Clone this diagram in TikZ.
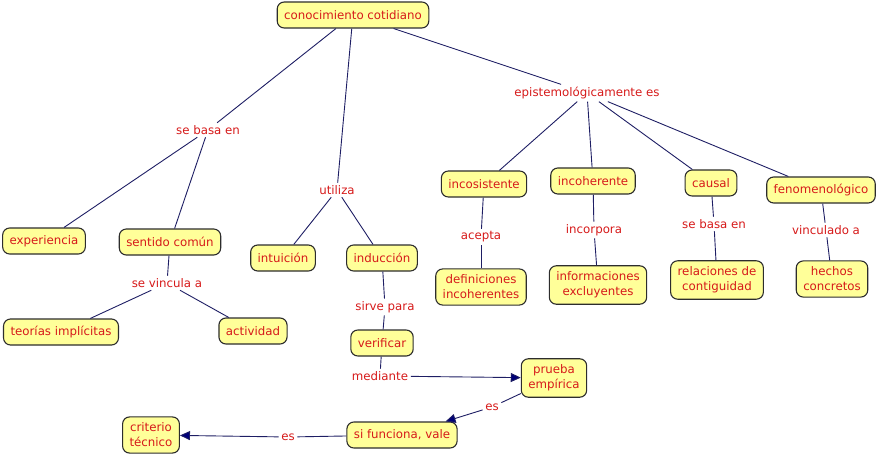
\documentclass[tikz,border=0pt]{standalone}
\usepackage{fontspec}
\setmainfont{DejaVu Sans}
\usetikzlibrary{arrows.meta}
\definecolor{cfill}{RGB}{255,255,153}
\definecolor{cborder}{RGB}{45,45,45}
\definecolor{ctext}{RGB}{214,26,26}
\definecolor{cline}{RGB}{30,30,100}
\definecolor{carrow}{RGB}{0,0,120}
\tikzset{
  concept/.style={draw=cborder, fill=cfill, rounded corners=7pt, line width=1.1pt,
    text=ctext, align=center, inner xsep=7pt, inner ysep=6pt, minimum height=26pt,
    font=\fontsize{11.8}{15}\selectfont},
  lbl/.style={text=ctext, inner sep=2.5pt, font=\fontsize{11.8}{15}\selectfont},
  link/.style={draw=cline, line width=0.9pt},
  arr/.style={link, -{Triangle[length=10pt,width=9pt,fill=carrow]}}
}
\begin{document}
\begin{tikzpicture}[x=1pt,y=-1pt]
\useasboundingbox (0,0) rectangle (877,457);
% concepts
\node[concept] (cc) at (353,15) {conocimiento cotidiano};
\node[concept] (exp) at (44,241) {experiencia};
\node[concept] (sc) at (170,242) {sentido común};
\node[concept] (ti) at (61,332) {teorías implícitas};
\node[concept] (act) at (253,331) {actividad};
\node[concept] (int) at (283,258) {intuición};
\node[concept] (ind) at (382,258) {inducción};
\node[concept] (ver) at (382,343) {verificar};
\node[concept] (pe) at (554,378) {prueba\\empírica};
\node[concept] (sf) at (402,435) {si funciona, vale};
\node[concept] (ct) at (151,435) {criterio\\técnico};
\node[concept] (inc) at (484,184) {incosistente};
\node[concept] (ich) at (593,181) {incoherente};
\node[concept] (cau) at (711,183) {causal};
\node[concept] (fen) at (821,190) {fenomenológico};
\node[concept] (def) at (481,287) {definiciones\\incoherentes};
\node[concept] (inf) at (598,285) {informaciones\\excluyentes};
\node[concept] (rel) at (717,280) {relaciones de\\contiguidad};
\node[concept] (hec) at (832,279) {hechos\\concretos};
% labels
\node[lbl] (l1) at (208,130) {se basa en};
\node[lbl] (l2) at (337,190) {utiliza};
\node[lbl] (l3) at (587,93) {epistemológicamente es};
\node[lbl] (l4) at (167,283) {se vincula a};
\node[lbl] (l5) at (385,307) {sirve para};
\node[lbl] (l6) at (380,376) {mediante};
\node[lbl] (l7) at (492,407) {es};
\node[lbl] (l8) at (288,437) {es};
\node[lbl] (l9) at (481,237) {acepta};
\node[lbl] (l10) at (594,230) {incorpora};
\node[lbl] (l11) at (714,224) {se basa en};
\node[lbl] (l12) at (826,230) {vinculado a};
% links
\draw[link] (cc) -- (l1);
\draw[link] (l1) -- (exp);
\draw[link] (l1) -- (sc);
\draw[link] (cc) -- (l2);
\draw[link] (l2) -- (int);
\draw[link] (l2) -- (ind);
\draw[link] (cc) -- (l3);
\draw[link] (l3) -- (inc);
\draw[link] (l3) -- (ich);
\draw[link] (l3) -- (cau);
\draw[link] (l3) -- (fen);
\draw[link] (sc) -- (l4);
\draw[link] (l4) -- (ti);
\draw[link] (l4) -- (act);
\draw[link] (ind) -- (l5);
\draw[link] (l5) -- (ver);
\draw[link] (ver) -- (l6);
\draw[arr] (l6) -- (pe);
\draw[link] (pe) -- (l7);
\draw[arr] (l7) -- (sf);
\draw[link] (sf) -- (l8);
\draw[arr] (l8) -- (ct);
\draw[link] (inc) -- (l9);
\draw[link] (l9) -- (def);
\draw[link] (ich) -- (l10);
\draw[link] (l10) -- (inf);
\draw[link] (cau) -- (l11);
\draw[link] (l11) -- (rel);
\draw[link] (fen) -- (l12);
\draw[link] (l12) -- (hec);
\end{tikzpicture}
\end{document}
